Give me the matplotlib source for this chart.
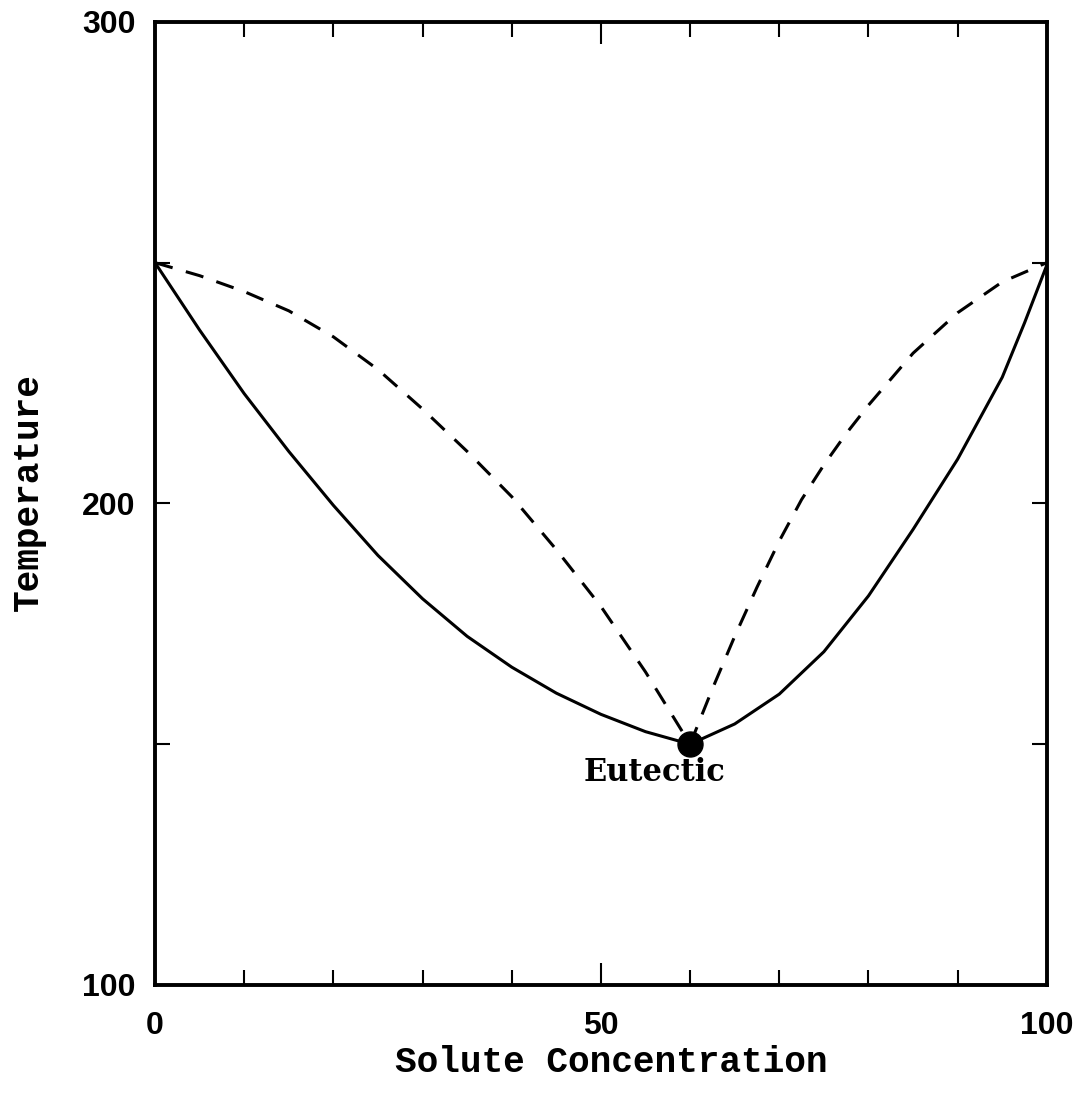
import numpy as np
import matplotlib.pyplot as plt
from matplotlib.ticker import MultipleLocator

# solid curve, left branch
solid_left_x = [0, 5, 10, 15, 20, 25, 30, 35, 40, 45, 50, 55, 60]
solid_left_t = [250, 236, 222.8, 210.8, 199.6, 189.2, 180.2, 172.4, 166, 160.6, 156.2, 152.6, 150]

# solid curve, right branch
solid_right_x = [60, 65, 70, 75, 80, 85, 90, 95, 97.5, 100]
solid_right_t = [150, 154.2, 160.4, 169.2, 180.8, 194.6, 209.2, 226.2, 237.5, 249.5]

# dashed curve, left branch
dash_left_x = [0, 5, 10, 15, 20, 25, 30, 35, 40, 45, 50, 55, 60]
dash_left_t = [250, 247.3, 244, 240, 234.6, 227.8, 219.6, 210.8, 201.4, 190.4, 178.6, 165, 150]

# dashed curve, right branch
dash_right_x = [60, 62.5, 65, 67.5, 70, 72.5, 75, 77.5, 80, 85, 90, 95, 100]
dash_right_t = [150, 161.5, 172.4, 182.6, 192.2, 200.8, 208, 214.5, 220.4, 231.2, 239.6, 246, 250]

eutectic_x = 60
eutectic_t = 150

fig = plt.figure(figsize=(10.81, 10.95), dpi=100)
ax = fig.add_axes([0.1434, 0.1005, 0.825, 0.8795])

ax.plot(solid_left_x, solid_left_t, color='black', lw=2.2)
ax.plot(solid_right_x, solid_right_t, color='black', lw=2.2)
ax.plot(dash_left_x, dash_left_t, color='black', lw=2.2, dashes=(6, 4.5))
ax.plot(dash_right_x, dash_right_t, color='black', lw=2.2, dashes=(6, 4.5))
ax.plot([eutectic_x], [eutectic_t], 'o', color='black', ms=18, zorder=5)

ax.text(56, 144.2, 'Eutectic', ha='center', va='center', fontsize=22,
        family='DejaVu Serif', fontweight='bold')

ax.set_xlim(0, 100)
ax.set_ylim(100, 300)

ax.xaxis.set_major_locator(MultipleLocator(50))
ax.xaxis.set_minor_locator(MultipleLocator(10))
ax.yaxis.set_major_locator(MultipleLocator(100))
ax.yaxis.set_minor_locator(MultipleLocator(50))

ax.tick_params(axis='x', which='major', direction='in', length=16, width=1.5,
               top=True, pad=19, labelsize=23)
ax.tick_params(axis='y', which='major', direction='in', length=11, width=1.5,
               right=True, pad=14, labelsize=23)
ax.tick_params(which='minor', direction='in', length=11, width=1.5, top=True, right=True)
for lab in ax.get_xticklabels() + ax.get_yticklabels():
    lab.set_family('Liberation Sans')
    lab.set_fontweight('bold')

for sp in ax.spines.values():
    sp.set_linewidth(2.8)

ax.text(0.512, -0.081, 'Solute Concentration', transform=ax.transAxes, ha='center',
        va='center', fontsize=26, family='Liberation Mono', fontweight='bold')
ax.text(-0.142, 0.512, 'Temperature', transform=ax.transAxes, ha='center',
        va='center', rotation=90, fontsize=26, family='Liberation Mono', fontweight='bold')

plt.savefig('out.png', dpi=100)
